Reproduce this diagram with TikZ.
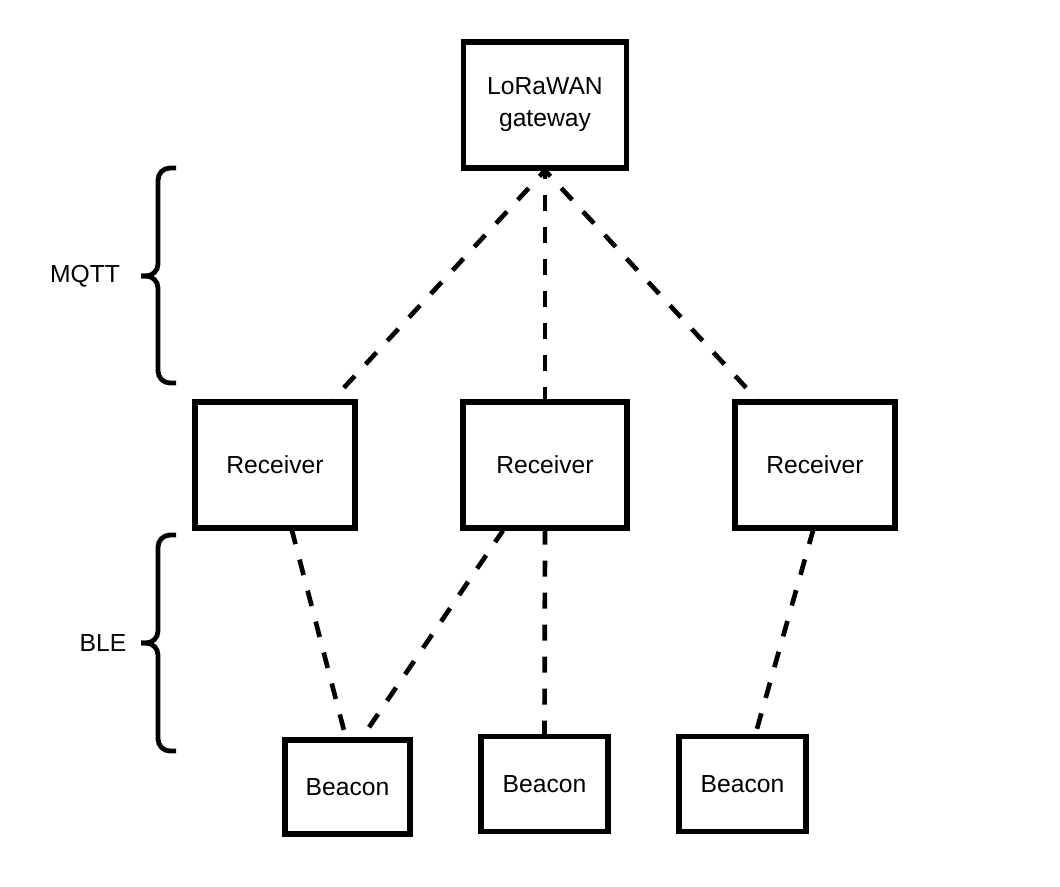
\documentclass[tikz,border=0pt]{standalone}
\usepackage{fontspec}
\setmainfont{Liberation Sans}
\usetikzlibrary{calc}
\begin{document}
\begin{tikzpicture}[x=0.75pt,y=-0.75pt,
  box/.style={draw=black,line width=3.8pt,fill=white,inner sep=0pt,align=center,
    font=\fontsize{18.5}{24}\selectfont},
  link/.style={draw=black,line width=3.5pt,dash pattern=on 12pt off 12pt},
  uplink/.style={link,dash phase=6pt},
  lowlink/.style={link,dash phase=1.5pt},
  brace/.style={draw=black,line width=3.6pt,rounded corners=9pt},
  lbl/.style={font=\fontsize{18.5}{24}\selectfont,inner sep=0pt}]
\useasboundingbox (0,0) rectangle (1060,886);
\node[box,minimum width=163*0.75pt,minimum height=126*0.75pt] (gw) at (545,105) {LoRaWAN\\gateway};
\node[box,minimum width=160*0.75pt,minimum height=126*0.75pt] (r1) at (275,465) {Receiver};
\node[box,minimum width=164*0.75pt,minimum height=126*0.75pt] (r2) at (545,465) {Receiver};
\node[box,minimum width=160*0.75pt,minimum height=126*0.75pt] (r3) at (815,465) {Receiver};
\node[box,minimum width=125*0.75pt,minimum height=94*0.75pt] (b1) at (347.5,787) {Beacon};
\node[box,minimum width=127*0.75pt,minimum height=95*0.75pt] (b2) at (544.5,784) {Beacon};
\node[box,minimum width=127*0.75pt,minimum height=95*0.75pt] (b3) at (742.5,784) {Beacon};
\path[uplink] (gw.south) -- ($(r1.north)+(58,0)$);
\path[uplink] (gw.south) -- (r2.north);
\path[uplink] (gw.south) -- ($(r3.north)+(-58,0)$);
\path[lowlink] ($(r1.south)+(17,0)$) -- ($(b1.north)+(-3,-5)$);
\path[lowlink] ($(r2.south)+(-42,0)$) -- ($(b1.north)+(18,-5)$);
\path[lowlink] (r2.south) -- (b2.north);
\path[lowlink] ($(r3.south)+(-2,0)$) -- ($(b3.north)+(13,0)$);
\coordinate (m1) at (176,168);
\coordinate (m2) at (176,383);
\coordinate (mt) at (141,276);
\coordinate (l1) at (176,535);
\coordinate (l2) at (176,751);
\coordinate (lt) at (141,643);
\path[brace] (m1) -- (158,168) -- (158,276) -- (mt);
\path[brace] (mt) -- (158,276) -- (158,383) -- (m2);
\path[brace] (l1) -- (158,535) -- (158,643) -- (lt);
\path[brace] (lt) -- (158,643) -- (158,751) -- (l2);
\node[lbl] (mqtt) at (85,276) {MQTT};
\node[lbl] (ble) at (103,643) {BLE};
\end{tikzpicture}
\end{document}
